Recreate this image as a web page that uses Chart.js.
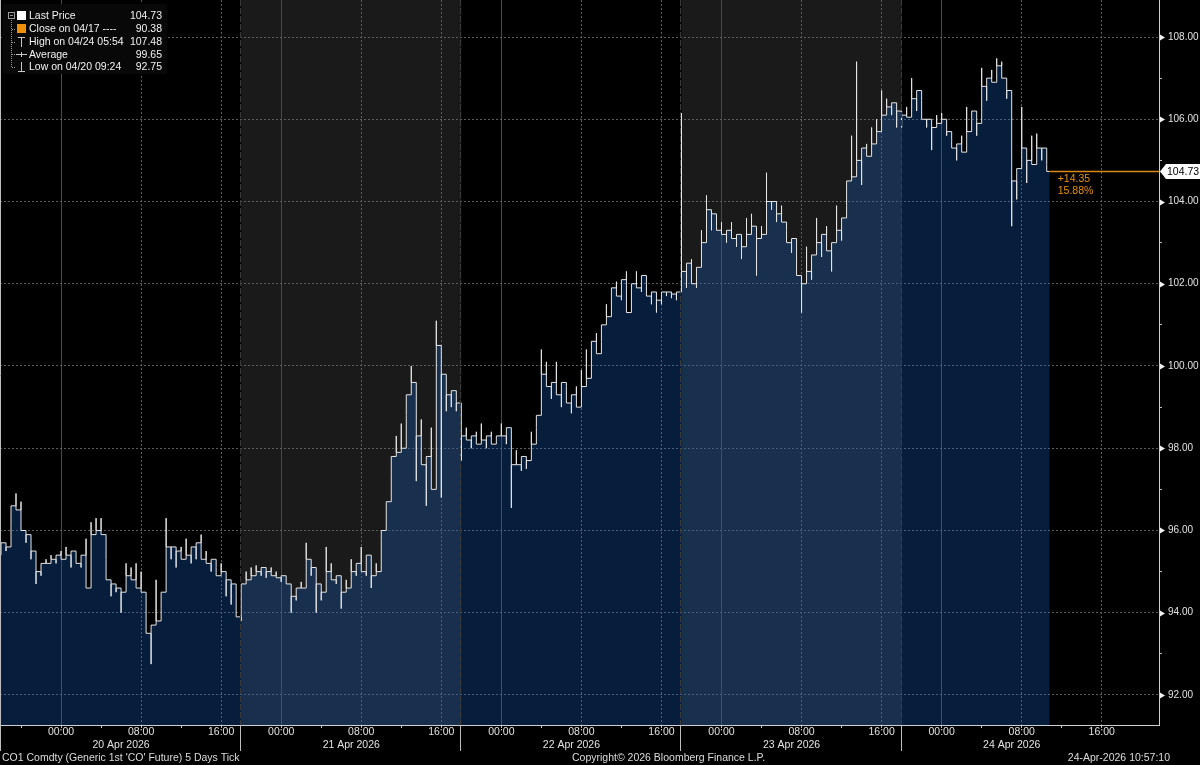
<!DOCTYPE html>
<html><head><meta charset="utf-8">
<script src="https://cdn.jsdelivr.net/npm/chart.js@4.4.1/dist/chart.umd.min.js"></script>
<style>
html,body{margin:0;padding:0;background:#000;width:1200px;height:765px;overflow:hidden;}
canvas{display:block;}
</style></head><body>
<canvas id="c" width="1200" height="765"></canvas>
<script>
// ---- price data: 30-minute bins, each [first move, close] (USD/bbl) ----
const apr20 = [[95.4,95.7],[95.5,95.6],[96.1,96.6],[96.9,96.5],[96.7,96.0],[95.7,95.9],[95.3,95.5],[94.7,95.0],
  [94.9,95.2],[95.3,95.2],[95.4,95.3],[95.2,95.4],[95.5,95.3],[95.6,95.4],[95.1,95.5],[95.3,95.2],
  [95.1,95.4],[95.8,94.6],[96.2,95.9],[96.3,96.0],[96.3,95.9],[95.3,94.8],[94.4,94.7],[94.5,94.6],
  [94.0,94.5],[95.2,94.9],[95.1,94.8],[95.2,94.6],[95.0,94.5],[93.8,93.5],[92.75,93.7],[94.8,93.8],
  [94.1,94.5],[96.3,95.6],[95.3,95.6],[95.1,95.5],[95.6,95.3],[95.8,95.4],[95.2,95.6],[95.3,95.7],
  [95.9,95.3],[95.5,95.2],[95.0,95.3],[95.1,94.9],[95.2,95.0],[94.4,94.8],[94.2,94.7],[94.4,93.9]];
const apr21 = [[93.8,94.7],[95.0,94.8],[95.1,94.9],[95.15,95.0],[94.9,95.1],[94.85,95.0],[95.1,94.9],[95.0,94.85],
  [94.75,94.9],[94.9,94.7],[94.0,94.4],[94.3,94.6],[94.75,94.6],[95.7,95.3],[94.9,95.1],[94.0,94.7],
  [94.3,94.5],[95.6,95.0],[95.2,94.8],[94.7,94.9],[94.1,94.5],[94.8,94.6],[95.3,95.0],[94.9,95.2],
  [95.6,95.0],[94.9,95.4],[94.6,94.9],[95.2,95.0],[95.75,96.0],[96.3,96.7],[97.4,97.8],[98.3,97.9],
  [98.6,98.0],[98.8,99.3],[100.0,99.6],[97.2,98.3],[98.7,97.6],[96.6,97.8],[98.5,97.0],[101.1,100.5],
  [96.8,99.8],[98.9,99.3],[99.0,99.4],[98.9,99.1]];
const apr22 = [[97.7,98.3],[98.5,98.2],[98.0,98.3],[98.4,98.1],[98.6,98.2],[98.0,98.3],[98.4,98.1],[98.2,98.3],
  [98.6,98.3],[98.1,98.5],[96.55,97.6],[97.95,97.6],[97.45,97.8],[97.5,97.7],[98.4,98.1],[98.5,98.8],
  [100.4,99.8],[100.1,99.5],[99.2,99.6],[100.1,99.3],[99.0,99.6],[99.5,99.1],[98.85,99.3],[99.5,99.0],
  [99.9,99.5],[100.4,99.7],[100.0,100.6],[100.8,100.3],[100.6,101.0],[101.5,101.2],[101.7,101.9],[102.05,101.7],
  [101.6,102.1],[102.3,101.3],[101.8,102.0],[102.3,101.9],[101.8,102.2],[102.0,101.7],[101.5,101.8],[101.3,101.6],
  [101.5,101.8],[101.7,101.8],[101.65,101.75],[101.6,101.8]];
const apr23 = [[106.15,102.3],[101.9,102.5],[102.6,102.0],[101.9,102.4],[103.3,103.0],[104.15,103.8],[103.3,103.7],[103.4,103.3],
  [103.5,103.2],[103.0,103.3],[103.5,103.1],[102.9,103.2],[102.6,102.9],[103.6,103.2],[103.7,103.4],[102.2,103.1],
  [103.4,103.2],[104.7,104.0],[103.8,104.0],[103.5,103.7],[103.9,103.5],[103.3,103.0],[102.75,103.1],[102.6,102.2],
  [101.3,102.0],[102.9,102.3],[102.1,102.7],[103.6,103.0],[102.65,103.2],[103.4,102.8],[102.3,103.0],[103.9,103.3],
  [103.05,103.6],[103.9,104.5],[105.6,104.6],[107.4,105.0],[104.4,105.3],[105.4,105.1],[105.8,105.4],[106.0,105.7],
  [106.7,106.1],[106.5,106.3],[106.1,106.4],[105.8,106.2]];
const apr24 = [[105.8,106.1],[106.3,106.05],[107.0,106.5],[106.2,106.7],[106.45,106.0],[105.8,106.0],[105.25,105.8],[106.1,105.9],
  [106.15,106.0],[105.6,105.7],[105.5,105.3],[105.0,105.4],[105.6,105.2],[106.3,105.7],[106.0,106.2],[105.6,105.9],
  [107.25,106.8],[106.45,107.0],[107.2,106.9],[107.48,107.3],[107.4,107.0],[106.5,106.7],[103.4,104.5],[104.05,104.8],
  [106.3,105.3],[104.45,105.0],[105.6,104.9],[105.65,105.3],[105.0,105.3],[104.9,104.73]];

// ---- sessions (x axis = trading hours since Sun 19 Apr 18:00 New York) ----
const sessionStart = [0, 24, 46, 68, 90];
const sessionOpenHour = [18, 20, 20, 20, 20];
const sessionLength = [24, 22, 22, 22, 22];
const sessionDates = ['20 Apr 2026', '21 Apr 2026', '22 Apr 2026', '23 Apr 2026', '24 Apr 2026'];
const shadedSessions = [1, 3];
const labeledHours = [0, 8, 16];
const binHours = 0.5;

// ---- summary values ----
const lastPrice = 104.73, prevClose = 90.38, highPrice = 107.48, avgPrice = 99.65, lowPrice = 92.75;
const lastT = 104.8;
const legendRows = ['Last Price', 'Close on 04/17 ----', 'High on 04/24 05:54', 'Average', 'Low on 04/20 09:24'];
const legendValues = [lastPrice, prevClose, highPrice, avgPrice, lowPrice];
const yTickValues = [92,93,94,95,96,97,98,99,100,101,102,103,104,105,106,107,108];
const xMin = -0.1, xMax = 115.72, yMin = 91.27, yMax = 108.9;
const footerLeft = "CO1 Comdty (Generic 1st 'CO' Future) 5 Days Tick";
const footerMid = 'Copyright\u00A9 2026 Bloomberg Finance L.P.';
const footerRight = '24-Apr-2026 10:57:10';

// ---- build series ----
const pricePts = [];
[apr20, apr21, apr22, apr23, apr24].forEach((bins, s) => bins.forEach((p, i) => {
  const t = sessionStart[s] + i * binHours;
  pricePts.push({x: t, y: p[0]}, {x: t, y: p[1]});
}));
pricePts.push({x: lastT, y: lastPrice});

const xTicks = [];
sessionStart.forEach((st, s) => {
  for (let k = 1; k < sessionLength[s]; k++) {
    const h = (sessionOpenHour[s] + k) % 24;
    if (h % 4 === 0) xTicks.push({t: st + k, hour: h});
  }
});
const hourAt = v => { const f = xTicks.find(k => Math.abs(k.t - v) < 1e-6); return f ? f.hour : -1; };
const pad2 = n => (n < 10 ? '0' : '') + n;
const noPad = sc => { sc.paddingTop = 0; sc.paddingBottom = 0; sc.paddingLeft = 0; sc.paddingRight = 0; };

const FONT = '"Liberation Sans", Arial, sans-serif';

const bgPlugin = {
  id: 'bg',
  beforeDraw(chart) {
    const {ctx, chartArea: a, scales: {x}} = chart;
    ctx.save();
    ctx.fillStyle = '#000';
    ctx.fillRect(0, 0, chart.width, chart.height);
    ctx.fillStyle = '#1a1a1a';
    shadedSessions.forEach(s => {
      const x0 = x.getPixelForValue(sessionStart[s]);
      const x1 = x.getPixelForValue(sessionStart[s] + sessionLength[s]);
      ctx.fillRect(x0, a.top, x1 - x0, a.bottom - a.top);
    });
    ctx.restore();
  },
  afterDatasetsDraw(chart) {
    const {ctx, chartArea: a, scales: {x}} = chart;
    ctx.save();
    ctx.lineWidth = 1;
    ctx.strokeStyle = '#3a3a3a';
    ctx.setLineDash([6, 2]);
    sessionStart.slice(1).forEach(st => {
      const px = Math.round(x.getPixelForValue(st)) - 0.5;
      ctx.beginPath(); ctx.moveTo(px, a.top); ctx.lineTo(px, a.bottom); ctx.stroke();
    });
    ctx.restore();
  }
};

const overlayPlugin = {
  id: 'overlay',
  afterDraw(chart) {
    const {ctx, chartArea: a, scales: {x, y}} = chart;
    ctx.save();
    // y label markers
    ctx.fillStyle = '#f0f0f0';
    yTickValues.filter(v => v % 2 === 0).forEach(v => {
      const py = Math.round(y.getPixelForValue(v));
      ctx.beginPath(); ctx.moveTo(a.right + 1, py - 2.5); ctx.lineTo(a.right + 6, py + 0.5); ctx.lineTo(a.right + 1, py + 3.5); ctx.closePath(); ctx.fill();
    });
    // last price flag
    const ly = y.getPixelForValue(lastPrice);
    ctx.fillStyle = '#ffffff';
    ctx.beginPath();
    ctx.moveTo(a.right + 1, ly); ctx.lineTo(a.right + 7, ly - 7.5); ctx.lineTo(1200, ly - 7.5);
    ctx.lineTo(1200, ly + 7.5); ctx.lineTo(a.right + 7, ly + 7.5); ctx.closePath(); ctx.fill();
    ctx.fillStyle = '#000';
    ctx.font = '10.5px ' + FONT;
    ctx.textBaseline = 'middle'; ctx.textAlign = 'left';
    ctx.fillText(lastPrice.toFixed(2), a.right + 8, ly + 0.5);
    // change text
    const chg = lastPrice - prevClose;
    const pct = chg / prevClose * 100;
    ctx.fillStyle = '#e8900c';
    const lx = x.getPixelForValue(lastT) + 8;
    ctx.fillText((chg >= 0 ? '+' : '') + chg.toFixed(2), lx, ly + 7.5);
    ctx.fillText(pct.toFixed(2) + '%', lx, ly + 19.5);
    // axis separators & date labels
    ctx.strokeStyle = '#bdbdbd'; ctx.lineWidth = 1;
    [0].concat(sessionStart.slice(1)).forEach(st => {
      const px = st === 0 ? 0.5 : Math.round(x.getPixelForValue(st)) - 0.5;
      ctx.beginPath(); ctx.moveTo(px, st === 0 ? 0 : a.bottom); ctx.lineTo(px, 751); ctx.stroke();
    });
    ctx.fillStyle = '#e2e2e2'; ctx.textAlign = 'center';
    sessionStart.forEach((st, s) => {
      ctx.fillText(sessionDates[s], x.getPixelForValue(st + sessionLength[s] / 2), 745);
    });
    // footer
    ctx.fillStyle = '#dcdcdc';
    ctx.textAlign = 'left'; ctx.fillText(footerLeft, 2, 758);
    ctx.fillText(footerMid, 572, 758);
    ctx.textAlign = 'right'; ctx.fillText(footerRight, 1170, 758);
    // legend
    ctx.fillStyle = 'rgba(8,8,8,0.96)';
    ctx.fillRect(3, 4, 164, 70);
    const rowY = i => 16 + i * 12.75;
    ctx.strokeStyle = '#9a9a9a'; ctx.lineWidth = 1;
    ctx.setLineDash([1, 1]);
    ctx.beginPath(); ctx.moveTo(11.5, 20); ctx.lineTo(11.5, rowY(4)); ctx.stroke();
    for (let i = 1; i < 5; i++) { ctx.beginPath(); ctx.moveTo(12, Math.round(rowY(i)) + 0.5); ctx.lineTo(16, Math.round(rowY(i)) + 0.5); ctx.stroke(); }
    ctx.setLineDash([]);
    ctx.strokeRect(8.5, 12.5, 6, 6);
    ctx.beginPath(); ctx.moveTo(10, 15.5); ctx.lineTo(13, 15.5); ctx.stroke();
    ctx.fillStyle = '#ffffff'; ctx.fillRect(17, 11, 9, 9);
    ctx.fillStyle = '#f0900a'; ctx.fillRect(17, 24, 9, 9);
    ctx.strokeStyle = '#c8c8c8';
    let r = Math.round(rowY(2));
    ctx.beginPath(); ctx.moveTo(18, r - 4.5); ctx.lineTo(25, r - 4.5); ctx.moveTo(21.5, r - 4.5); ctx.lineTo(21.5, r + 5); ctx.stroke();
    r = Math.round(rowY(3));
    ctx.beginPath(); ctx.moveTo(16, r + 0.5); ctx.lineTo(27, r + 0.5); ctx.moveTo(21.5, r - 2); ctx.lineTo(21.5, r + 3); ctx.stroke();
    r = Math.round(rowY(4));
    ctx.beginPath(); ctx.moveTo(21.5, r - 5); ctx.lineTo(21.5, r + 4.5); ctx.moveTo(18, r + 4.5); ctx.lineTo(25, r + 4.5); ctx.stroke();
    ctx.fillStyle = '#f2f2f2';
    ctx.font = '10.5px ' + FONT;
    legendRows.forEach((txt, i) => {
      ctx.textAlign = 'left'; ctx.fillText(txt, 29, rowY(i) + 0.5);
      ctx.textAlign = 'right'; ctx.fillText(legendValues[i].toFixed(2), 162, rowY(i) + 0.5);
    });
    ctx.restore();
  }
};

new Chart(document.getElementById('c'), {
  type: 'line',
  data: {datasets: [
    {data: pricePts, borderColor: '#e6e6e6', borderWidth: 1, backgroundColor: 'rgba(20,100,195,0.3)',
     fill: 'start', stepped: true, pointRadius: 0, order: 2},
    {data: [{x: lastT, y: lastPrice}, {x: xMax, y: lastPrice}], borderColor: '#d98a12', borderWidth: 1.5,
     pointRadius: 0, fill: false, order: 1}
  ]},
  options: {
    responsive: false, animation: false, devicePixelRatio: 1,
    layout: {padding: 0},
    plugins: {legend: {display: false}, tooltip: {enabled: false}},
    scales: {
      x: {type: 'linear', position: 'bottom', min: xMin, max: xMax,
        afterBuildTicks: sc => { sc.ticks = xTicks.map(k => ({value: k.t})); },
        afterFit: sc => { sc.height = 40; noPad(sc); },
        ticks: {autoSkip: false, maxRotation: 0, minRotation: 0, padding: -1, color: '#e2e2e2',
          font: {family: FONT, size: 10.5, lineHeight: 1},
          callback: v => { const h = hourAt(v); return labeledHours.includes(h) ? pad2(h) + ':00' : ''; }},
        grid: {lineWidth: 1, tickLength: 3, drawTicks: true, tickColor: '#bdbdbd',
          color: c => { const h = c.tick ? hourAt(c.tick.value) : -1; return h === 0 ? '#4a4a4a' : (h === 8 || h === 16 ? '#5e5e5e' : 'rgba(0,0,0,0)'); }},
        border: {display: true, color: '#cfcfcf', width: 1,
          dash: c => { const h = c.tick ? hourAt(c.tick.value) : -1; return h === 0 ? [] : [2, 2]; }}
      },
      y: {type: 'linear', position: 'right', min: yMin, max: yMax,
        afterBuildTicks: sc => { sc.ticks = yTickValues.map(v => ({value: v})); },
        afterFit: sc => { sc.width = 41; noPad(sc); },
        ticks: {padding: 6, color: '#e2e2e2', font: {family: FONT, size: 10, lineHeight: 1},
          callback: v => (v % 2 === 0 ? v.toFixed(2) : '')},
        grid: {lineWidth: 1, tickLength: 3, drawTicks: true,
          color: c => (c.tick && c.tick.value % 2 === 0 ? '#5e5e5e' : 'rgba(0,0,0,0)'),
          tickColor: c => (c.tick && c.tick.value % 2 !== 0 ? '#bdbdbd' : 'rgba(0,0,0,0)')},
        border: {display: true, color: '#d0d0d0', width: 1, dash: [2, 2]}
      }
    }
  },
  plugins: [bgPlugin, overlayPlugin]
});
</script>
</body></html>
